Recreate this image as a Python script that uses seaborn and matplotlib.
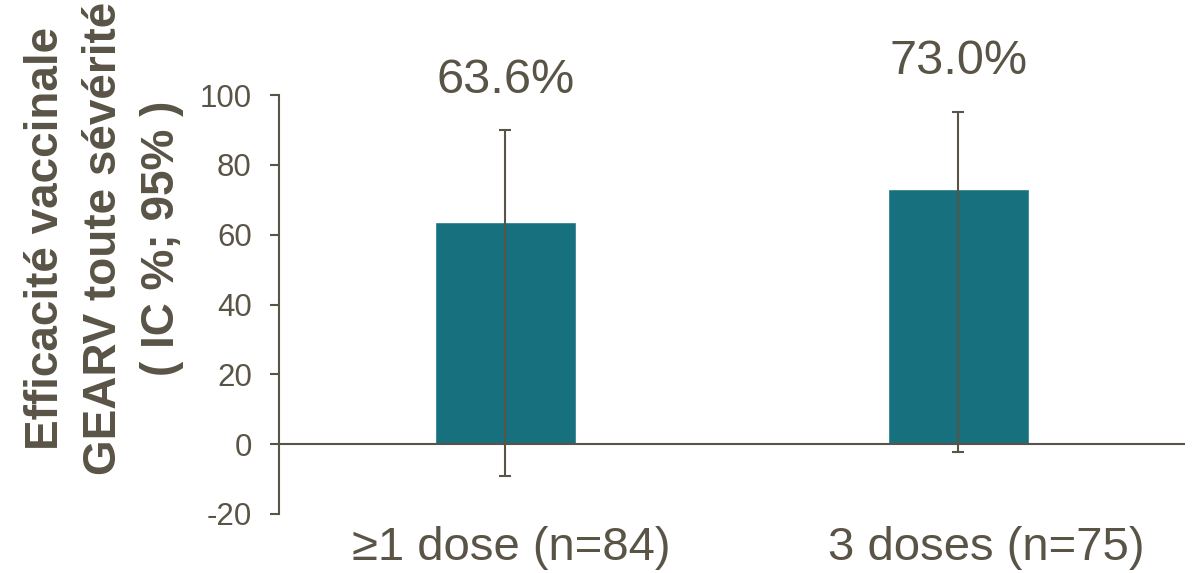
import matplotlib
matplotlib.use("Agg")
import pandas as pd
import seaborn as sns
import matplotlib.pyplot as plt
from matplotlib.transforms import ScaledTranslation

categories = ["≥1 dose (n=84)", "3 doses (n=75)"]
efficacy = [63.6, 73.0]
ci_low = [-9.0, -2.2]
ci_high = [90.0, 95.3]
value_labels = ["63.6%", "73.0%"]

bar_color = "#17707E"
ink = "#595446"

sns.set_style("white")
plt.rcParams["font.family"] = ["Liberation Sans", "DejaVu Sans"]
plt.rcParams["axes.unicode_minus"] = False

df = pd.DataFrame({"groupe": categories, "ve": efficacy})

fig = plt.figure(figsize=(11.92, 5.73), dpi=100)
ax = fig.add_axes([0.234, 0.103, 0.760, 0.731])

sns.barplot(data=df, x="groupe", y="ve", color=bar_color, width=0.31,
            saturation=1, errorbar=None, ax=ax)

xpos = list(range(len(categories)))
yerr = [[v - lo for v, lo in zip(efficacy, ci_low)],
        [hi - v for v, hi in zip(efficacy, ci_high)]]
ax.errorbar(xpos, efficacy, yerr=yerr, fmt="none", ecolor=ink,
            elinewidth=1.5, capsize=4, capthick=1.5, zorder=3)

for x, hi, lab in zip(xpos, ci_high, value_labels):
    ax.annotate(lab, (x, hi), xytext=(0, 27), textcoords="offset points",
                ha="center", va="baseline", fontsize=35, color=ink)

ax.axhline(0, color=ink, lw=1.5, zorder=2)

ax.set_xlim(-0.5, 1.5)
ax.set_ylim(-20, 100)
ax.set_yticks([-20, 0, 20, 40, 60, 80, 100])

for s in ["top", "right", "bottom"]:
    ax.spines[s].set_visible(False)
ax.spines["left"].set_color(ink)
ax.spines["left"].set_linewidth(1.5)

ax.tick_params(axis="y", left=True, length=6.5, width=1.5, color=ink,
               labelsize=22.5, labelcolor=ink, pad=13, direction="out")
ax.tick_params(axis="x", bottom=False, length=0, labelsize=34,
               labelcolor=ink, pad=9)

# labels in the original sit a little right of the bars
for lab, dx in zip(ax.get_xticklabels(), [0.06, 0.28]):
    lab.set_transform(lab.get_transform() + ScaledTranslation(dx, 0, fig.dpi_scale_trans))

ax.set_xlabel("")
ax.set_ylabel("")

fig.text(104 / 1192, 1 - 238 / 573,
         "Efficacité vaccinale\nGEARV toute sévérité\n( IC %; 95% )",
         rotation=90, ha="center", va="center", multialignment="center",
         fontsize=33, fontweight="bold", color=ink, linespacing=1.4)

fig.savefig("out.png", dpi=100)
